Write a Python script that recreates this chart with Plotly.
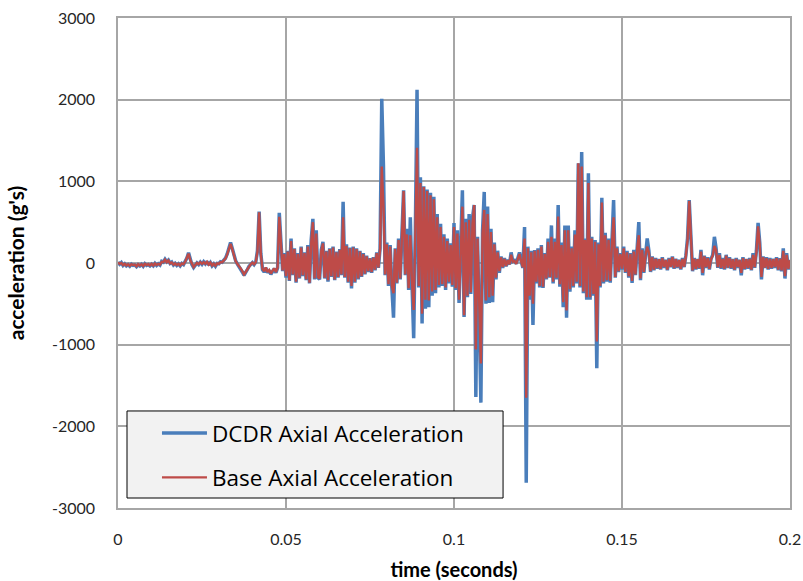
import plotly.graph_objects as go

# --- sample data (acceleration in g's, one sample every 0.5 ms) ---
DT = 0.0005

dcdr_axial = [
    10, -15, 5, -30, -10, -35, -20, -40, -15, -30, -25, -45, -20, -35, -15, -40, -10, -30, -20, -35,
    -15, -35, -5, -30, -10, -25, 20, 10, 45, 15, 35, -5, 10, -25, -5, -30, -10, -35, -5, -20,
    20, 60, 125, 40, -20, -55, -30, 0, -20, 10, -15, 15, -10, 20, -25, 5, -35, -10, -40, -5,
    -10, 15, 10, 40, 60, 110, 170, 250, 180, 90, 30, -10, -40, -70, -110, -150, -120, -80, -40, -20,
    5, -20, 10, 150, 630, 120, -80, -110, -60, -120, -90, -140, -100, -70, -120, -60, 615, 200, -100, 120,
    -180, 150, -220, 300, -150, 180, -240, 120, -190, 200, -160, 130, -210, 220, -250, 280, 540, -200, 400, -180,
    -200, 160, 260, -190, 150, -230, 180, -170, 200, -210, 140, -180, 170, -150, 750, -180, 230, -240, 190, -310,
    200, -240, 180, -200, 150, -170, 120, -140, 90, -110, 60, -120, 70, -90, 130, -60, 180, 2010, 1200, -150,
    250, -280, 220, -300, -670, 180, -250, 300, -200, 350, 890, -150, 420, -330, 560, -250, -920, 400, 2120, -300,
    1050, -740, 940, -560, 900, -540, 860, -400, 810, -370, 600, -300, 480, -280, 350, -330, 300, -250, 240, -290,
    490, -330, 400, -490, 300, 890, -660, 540, -420, 600, -380, 550, 710, -1640, 320, -700, -1710, 400, 870, -500,
    690, -490, 420, -480, 250, -200, 150, -120, 80, -60, 60, -40, 40, -20, 130, 20, 30, -10, 60, 130,
    20, -60, 440, -2690, 200, -450, 150, -760, 160, -250, 180, -300, 220, -305, 120, -200, 300, -180, 460, -250,
    300, -200, 710, -290, 250, -540, 460, -670, 460, -350, 200, -300, 400, -250, 1220, -300, 1360, -370, 300, -450,
    1100, -450, 320, -400, 280, -1290, 250, -300, 800, -250, 370, -230, 300, -240, 250, 770, -180, 200, -110, 120,
    -80, 200, -120, 150, -180, 120, -245, 160, -150, 200, 500, -210, 180, -120, 100, 300, 150, -110, 80, -90,
    60, -70, 50, -80, 70, -60, 40, -90, 60, -50, 80, -70, 50, -60, 40, -80, 60, -50, 90, 300,
    770, 400, -100, 60, -80, 50, -70, 160, -150, 90, -60, 70, -80, 50, 100, 320, 180, -60, 120, -70,
    60, -80, 100, -60, 70, -70, 50, -90, 60, -60, 40, -150, 70, -80, 50, -70, 60, -90, 120, -60,
    150, 490, 250, -200, 80, -60, 70, -80, 60, -70, 50, -60, 70, -90, 60, -100, 180, -190, 120, -80, 40,
]

base_axial = [
    5, -10, 0, -25, -10, -30, -15, -35, -15, -25, -20, -40, -15, -30, -15, -35, -10, -25, -15, -30,
    -10, -30, -5, -25, -10, -20, 15, 10, 40, 10, 30, -5, 5, -20, -5, -25, -10, -30, -5, -15,
    15, 55, 115, 35, -15, -50, -25, 0, -15, 10, -10, 10, -10, 15, -20, 5, -30, -10, -35, -5,
    -10, 10, 10, 35, 55, 105, 165, 235, 170, 85, 25, -10, -35, -65, -100, -140, -110, -75, -35, -15,
    5, -15, 10, 140, 620, 110, -70, -100, -55, -110, -85, -130, -95, -65, -110, -55, 565, 180, -90, 110,
    -160, 140, -210, 270, -140, 170, -230, 110, -180, 190, -150, 120, -200, 200, -240, 250, 500, -190, 360, -170,
    -190, 150, 240, -180, 140, -210, 170, -160, 190, -200, 130, -170, 160, -140, 560, -170, 210, -230, 180, -280,
    190, -230, 170, -190, 140, -160, 110, -130, 80, -100, 55, -110, 65, -80, 120, -55, 170, 1180, 700, -140,
    230, -260, 200, -280, -370, 170, -240, 280, -190, 320, 880, -140, 350, -310, 340, -230, -575, 380, 1410, -280,
    980, -620, 930, -450, 880, -460, 830, -350, 780, -330, 560, -270, 440, -260, 320, -300, 270, -230, 220, -270,
    440, -310, 360, -450, 280, 690, -640, 500, -400, 530, -360, 480, 710, -1060, 300, -650, -1230, 360, 650, -460,
    600, -420, 380, -400, 230, -180, 130, -100, 70, -50, 50, -35, 35, -15, 100, 15, 25, -10, 50, 110,
    15, -50, 300, -1650, 180, -400, 130, -500, 150, -230, 160, -280, 200, -290, 110, -190, 260, -170, 320, -230,
    260, -180, 570, -260, 220, -480, 400, -580, 400, -320, 180, -280, 350, -230, 1220, -280, 1180, -350, 280, -420,
    980, -420, 300, -380, 260, -960, 230, -280, 740, -230, 340, -210, 280, -220, 230, 560, -170, 180, -100, 110,
    -70, 180, -110, 130, -160, 110, -220, 140, -140, 170, 340, -190, 160, -110, 90, 200, 130, -100, 70, -80,
    50, -60, 45, -70, 60, -50, 35, -80, 50, -45, 70, -60, 45, -50, 35, -70, 50, -45, 80, 280,
    760, 350, -90, 50, -70, 45, -60, 140, -120, 80, -50, 60, -70, 45, 90, 210, 160, -50, 100, -60,
    50, -70, 90, -55, 60, -60, 45, -80, 50, -50, 35, -120, 60, -70, 45, -60, 50, -80, 100, -50,
    130, 450, 220, -170, 70, -55, 60, -70, 50, -60, 45, -50, 60, -80, 50, -90, 150, -160, 100, -70, 35,
]

x_ticks = [0, 0.05, 0.1, 0.15, 0.2]
x_tick_labels = ["0", "0.05", "0.1", "0.15", "0.2"]
y_ticks = [-3000, -2000, -1000, 0, 1000, 2000, 3000]
y_tick_labels = ["-3000", "-2000", "-1000", "0", "1000", "2000", "3000"]

time_s = [i * DT for i in range(len(dcdr_axial))]

BLUE = "#4a7ebb"
RED = "#be4b48"
GRID = "#a6a6a6"
FONT = "Lato, 'Open Sans', sans-serif"

fig = go.Figure()
fig.add_trace(go.Scatter(x=time_s, y=dcdr_axial, mode="lines", name="DCDR Axial Acceleration",
                         legendgroup="dcdr", line=dict(color=BLUE, width=3.5)))
fig.add_trace(go.Scatter(x=time_s, y=base_axial, mode="lines", name="Base Axial Acceleration",
                         legendgroup="base", line=dict(color=RED, width=2.4)))

# legend box (drawn as a shape so its size matches the original)
fig.add_shape(type="rect", xref="paper", yref="paper", x0=0.0134, x1=0.573, y0=0.0204, y1=0.198,
              fillcolor="#f2f2f2", line=dict(color="#000000", width=1), layer="above")

fig.update_layout(
    width=803, height=581,
    margin=dict(l=118, r=13, t=18, b=73),
    paper_bgcolor="white", plot_bgcolor="white",
    font=dict(family=FONT, size=16, color="#262626"),
    showlegend=True,
    legend=dict(x=0.058, y=0.196, xanchor="left", yanchor="top",
                bgcolor="rgba(0,0,0,0)", borderwidth=0,
                font=dict(family="'Open Sans', sans-serif", size=22.5, color="#000000"),
                itemwidth=45, tracegroupgap=12),
)
fig.update_xaxes(range=[0, 0.2], tickvals=x_ticks, ticktext=x_tick_labels,
                 showgrid=True, gridcolor=GRID, gridwidth=1.5,
                 showline=True, linecolor=GRID, linewidth=1.5, mirror=True,
                 zeroline=False, ticks="", ticklabelstandoff=16, automargin=False,
                 title=dict(text="<b>time (seconds)</b>", font=dict(size=20, color="#000000"), standoff=16))
fig.update_yaxes(range=[-3000, 3000], tickvals=y_ticks, ticktext=y_tick_labels,
                 showgrid=True, gridcolor=GRID, gridwidth=1.5,
                 showline=True, linecolor=GRID, linewidth=1.5, mirror=True,
                 zeroline=False, ticks="", ticklabelstandoff=18, automargin=False,
                 title=dict(text="<b>acceleration (g's)</b>", font=dict(size=21, color="#000000"), standoff=22))

# the page's default body margin would push the 803x581 figure off the window
fig.write_html("out.html", config={"displayModeBar": False},
               post_script="document.body.style.margin = '0';")
